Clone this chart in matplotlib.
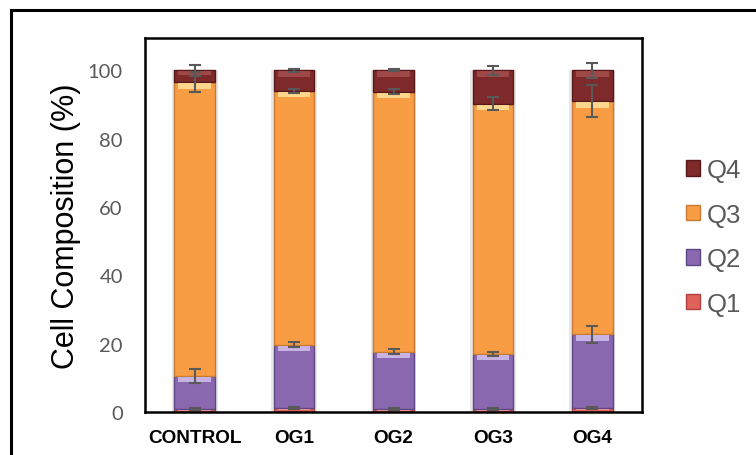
import matplotlib
matplotlib.use('Agg')
import matplotlib.pyplot as plt
from matplotlib.lines import Line2D
import numpy as np

# data (percent of cells per quadrant)
groups = ['CONTROL', 'OG1', 'OG2', 'OG3', 'OG4']
q1 = [0.8, 1.2, 0.9, 0.9, 1.3]
q2 = [9.8, 18.5, 16.7, 16.2, 21.5]
q3 = [86.0, 74.3, 76.2, 73.2, 68.2]
q4 = [3.4, 6.0, 6.2, 9.7, 9.0]
q1_err = [0.3, 0.3, 0.3, 0.3, 0.3]
q2_err = [2.0, 0.7, 0.7, 0.6, 2.5]
q3_err = [3.0, 0.5, 0.7, 1.9, 4.7]
q4_err = [1.7, 0.5, 0.3, 1.2, 2.1]
labels = ['Q1', 'Q2', 'Q3', 'Q4']

# base colour, edge colour, top highlight colour
styles = [('#E0605A', '#B04040', '#F4A0A0'),
          ('#8A68B0', '#5E4684', '#D8C8F0'),
          ('#F99D45', '#C87A34', '#FFE6A0'),
          ('#7E2A2A', '#561818', '#A85050')]

fig = plt.figure(figsize=(7.56, 4.56), dpi=100)
ax = fig.add_axes([145 / 756, 1 - 413 / 456, (642 - 145) / 756, (413 - 39) / 456])

x = np.arange(len(groups))
w = 0.41
series = [q1, q2, q3, q4]
errs = [q1_err, q2_err, q3_err, q4_err]

# soft shadow behind bars
ax.bar(x, np.sum(series, axis=0), width=w + 0.05, color='#e6e6e6', zorder=1)

bottom = np.zeros(len(groups))
handles = []
for vals, err, lab, (c, ec, hc) in zip(series, errs, labels, styles):
    vals = np.array(vals)
    b = ax.bar(x, vals, width=w, bottom=bottom, color=c, edgecolor=ec,
               linewidth=1.0, label=lab, zorder=2)
    handles.append(b)
    # bevel highlight at the top of each segment
    hh = np.minimum(1.6, vals * 0.3)
    ax.bar(x, hh, width=w * 0.8, bottom=bottom + vals - hh - 0.3, color=hc,
           linewidth=0, alpha=0.8, zorder=3)
    top = bottom + vals
    ax.errorbar(x, top, yerr=err, fmt='none', ecolor='#595959',
                elinewidth=1.5, capsize=4.5, capthick=1.5, zorder=4)
    bottom = top

ax.set_xlim(-0.5, len(groups) - 0.5)
ax.set_ylim(0, 109.5)
ax.set_yticks([0, 20, 40, 60, 80, 100])
ax.set_xticks(x)
ax.set_xticklabels(groups, fontsize=13.7, fontweight='bold', family='Liberation Sans')
for t in ax.get_yticklabels():
    t.set_family('Lato')
    t.set_fontsize(14.5)
    t.set_color('#595959')
ax.tick_params(axis='y', length=0, pad=16)
ax.tick_params(axis='x', length=0, pad=12)
ax.set_ylabel('Cell Composition (%)', fontsize=22, family='Liberation Sans',
              labelpad=5)
for s in ax.spines.values():
    s.set_linewidth(1.8)
    s.set_color('black')

leg = fig.legend(handles[::-1], labels[::-1], loc='center left',
                 bbox_to_anchor=(686 / 756, 1 - 238 / 456), frameon=False,
                 prop={'family': 'Liberation Sans', 'size': 18.5},
                 handlelength=0.55, handleheight=0.55, handletextpad=0.25,
                 labelspacing=0.8, borderpad=0, borderaxespad=0)
for t in leg.get_texts():
    t.set_color('#595959')

# outer frame (runs off the right and bottom edges)
fig.add_artist(Line2D([11 / 756, 11 / 756], [0, 1 - 11 / 456], color='black',
                      lw=2.2, transform=fig.transFigure))
fig.add_artist(Line2D([11 / 756, 1], [1 - 11 / 456, 1 - 11 / 456], color='black',
                      lw=2.2, transform=fig.transFigure))

fig.savefig('out.png', dpi=100)
